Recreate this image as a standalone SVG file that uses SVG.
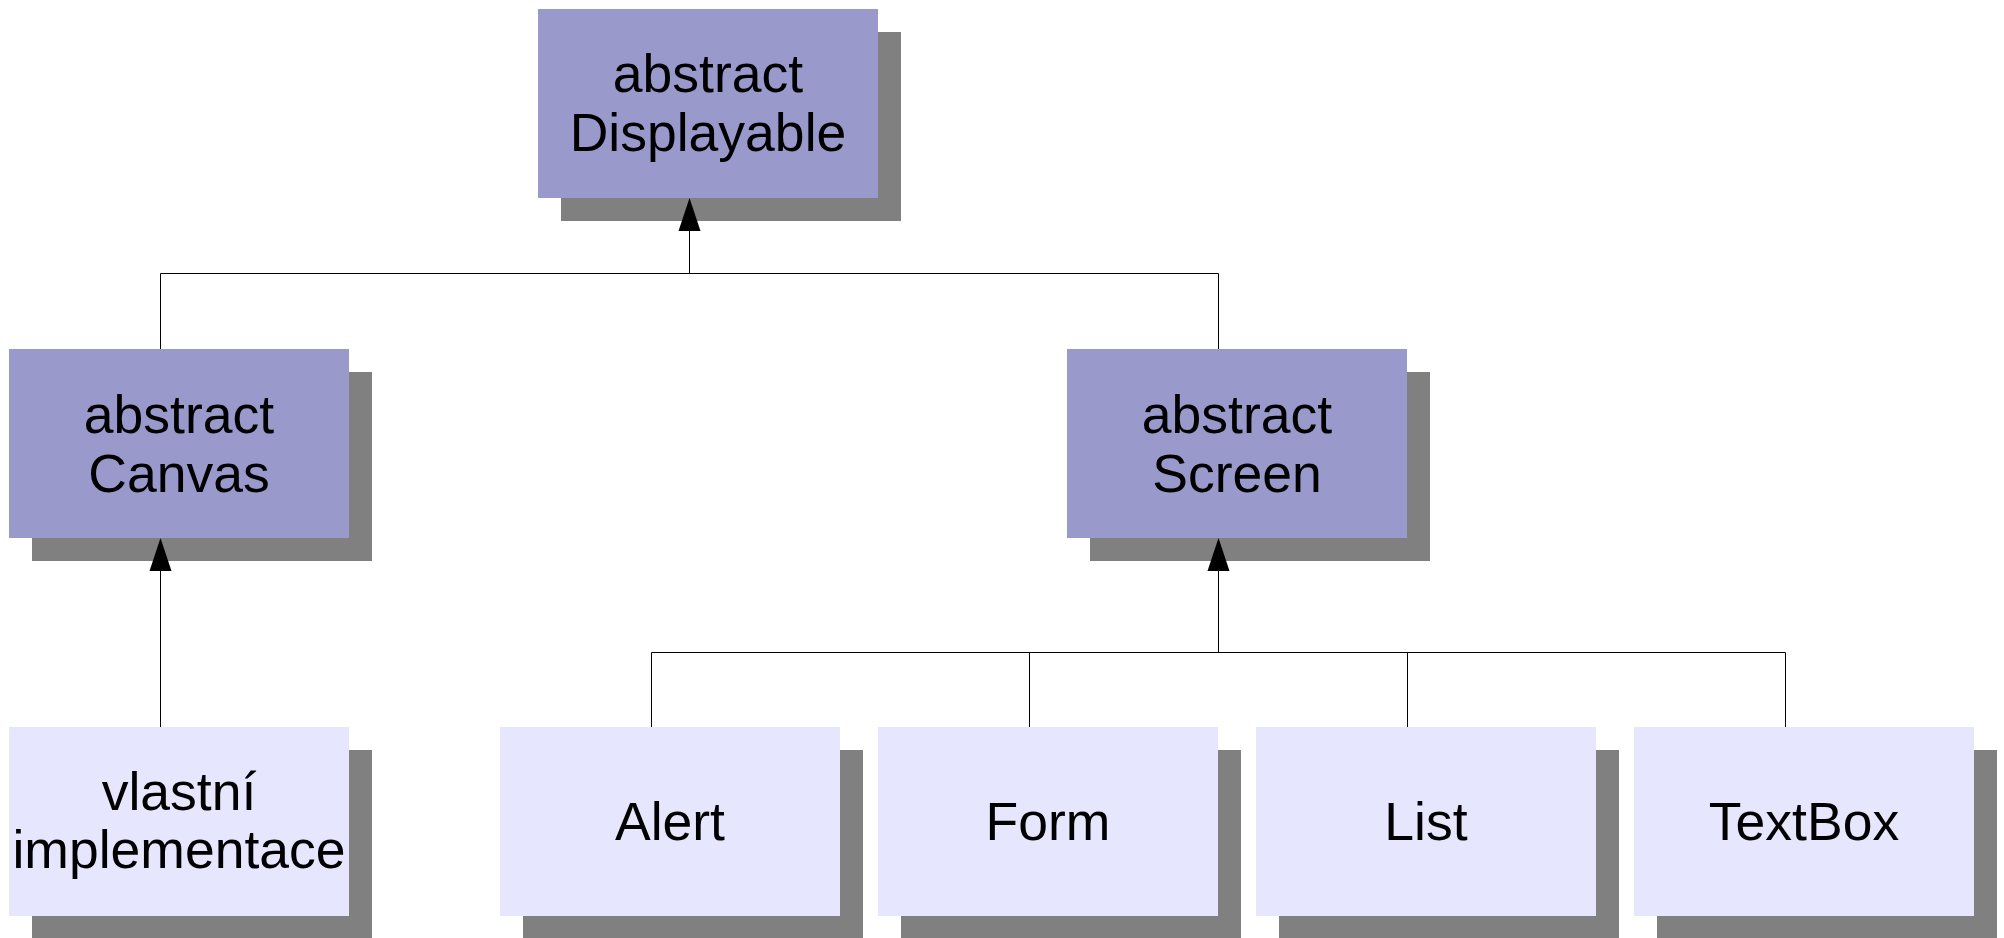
<svg xmlns="http://www.w3.org/2000/svg" width="2004" height="938" viewBox="0 0 2004 938">
  <defs>
    <style>
      .shadow { fill: #808080; }
      .abstract { fill: #9999cc; }
      .concrete { fill: #e6e6ff; }
      .label { font-family: "Liberation Sans", Arial, sans-serif; font-size: 53.5px; fill: #000; text-anchor: middle; }
      .wire { stroke: #000; stroke-width: 1; fill: none; }
      .head { fill: #000; }
    </style>
  </defs>
  <rect width="2004" height="938" fill="#fff"/>

  <g id="displayable">
    <rect class="shadow" x="561" y="32" width="340" height="189"/>
    <rect class="abstract" x="538" y="9" width="340" height="189"/>
    <text class="label" x="708" y="92">abstract</text>
    <text class="label" x="708" y="151">Displayable</text>
  </g>

  <g id="canvas">
    <rect class="shadow" x="32" y="372" width="340" height="189"/>
    <rect class="abstract" x="9" y="349" width="340" height="189"/>
    <text class="label" x="179" y="433">abstract</text>
    <text class="label" x="179" y="492">Canvas</text>
  </g>

  <g id="screen">
    <rect class="shadow" x="1090" y="372" width="340" height="189"/>
    <rect class="abstract" x="1067" y="349" width="340" height="189"/>
    <text class="label" x="1237" y="433">abstract</text>
    <text class="label" x="1237" y="492">Screen</text>
  </g>

  <g id="vlastni-implementace">
    <rect class="shadow" x="32" y="750" width="340" height="189"/>
    <rect class="concrete" x="9" y="727" width="340" height="189"/>
    <text class="label" x="179" y="810">vlastní</text>
    <text class="label" x="179" y="868">implementace</text>
  </g>

  <g id="alert">
    <rect class="shadow" x="523" y="750" width="340" height="189"/>
    <rect class="concrete" x="500" y="727" width="340" height="189"/>
    <text class="label" x="670" y="840">Alert</text>
  </g>

  <g id="form">
    <rect class="shadow" x="901" y="750" width="340" height="189"/>
    <rect class="concrete" x="878" y="727" width="340" height="189"/>
    <text class="label" x="1048" y="840">Form</text>
  </g>

  <g id="list">
    <rect class="shadow" x="1279" y="750" width="340" height="189"/>
    <rect class="concrete" x="1256" y="727" width="340" height="189"/>
    <text class="label" x="1426" y="840">List</text>
  </g>

  <g id="textbox">
    <rect class="shadow" x="1657" y="750" width="340" height="189"/>
    <rect class="concrete" x="1634" y="727" width="340" height="189"/>
    <text class="label" x="1804" y="840">TextBox</text>
  </g>

  <!-- inheritance lines, drawn over the box shadows -->
  <g id="connectors">
    <path class="wire" d="M160.5 273.5 H1218.5"/>
    <path class="wire" d="M160.5 273.5 V349"/>
    <path class="wire" d="M1218.5 273.5 V349"/>
    <path class="wire" d="M689.5 273.5 V231"/>
    <path class="head" d="M689.5 198 L700.5 231 L678.5 231 Z"/>

    <path class="wire" d="M160.5 727 V571"/>
    <path class="head" d="M160.5 538 L171.5 571 L149.5 571 Z"/>

    <path class="wire" d="M651.5 652.5 H1785.5"/>
    <path class="wire" d="M1218.5 652.5 V571"/>
    <path class="head" d="M1218.5 538 L1229.5 571 L1207.5 571 Z"/>
    <path class="wire" d="M651.5 652.5 V727"/>
    <path class="wire" d="M1029.5 652.5 V727"/>
    <path class="wire" d="M1407.5 652.5 V727"/>
    <path class="wire" d="M1785.5 652.5 V727"/>
  </g>
</svg>
